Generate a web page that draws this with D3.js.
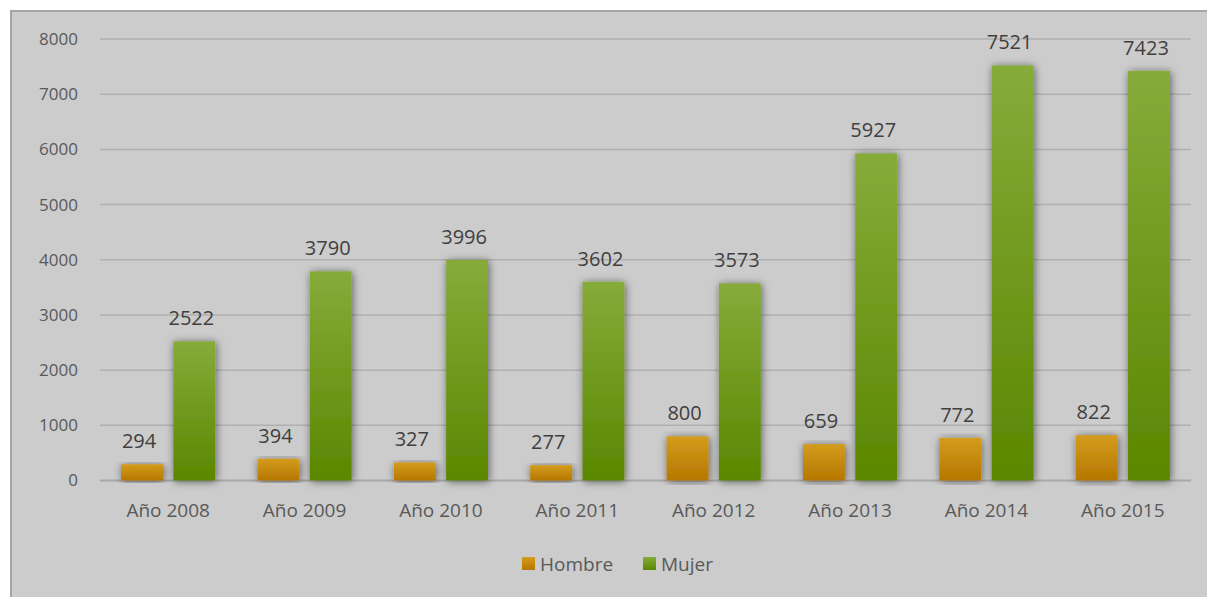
<!DOCTYPE html>
<html>
<head>
<meta charset="utf-8">
<script src="https://cdn.jsdelivr.net/npm/d3@7"></script>
<style>
  body { margin: 0; background: #fff; }
  svg { display: block; font-family: "Open Sans", "Noto Sans", sans-serif; }
</style>
</head>
<body>
<div id="chart"></div>
<script>
var years  = ["Año 2008", "Año 2009", "Año 2010", "Año 2011", "Año 2012", "Año 2013", "Año 2014", "Año 2015"];
var hombre = [294, 394, 327, 277, 800, 659, 772, 822];
var mujer  = [2522, 3790, 3996, 3602, 3573, 5927, 7521, 7423];
var series = ["Hombre", "Mujer"];
var yTicks = [0, 1000, 2000, 3000, 4000, 5000, 6000, 7000, 8000];

var W = 1207, H = 597;
var margin = {top: 39, left: 100, right: 16, bottom: 116};
var width  = 1191 - margin.left,
    height = 480.5 - margin.top;

var svg = d3.select("#chart").append("svg")
    .attr("width", W).attr("height", H);

var defs = svg.append("defs");

function grad(id, top, bottom) {
  var lg = defs.append("linearGradient").attr("id", id)
      .attr("x1", 0).attr("y1", 0).attr("x2", 0).attr("y2", 1);
  lg.append("stop").attr("offset", "0%").attr("stop-color", top);
  lg.append("stop").attr("offset", "100%").attr("stop-color", bottom);
}
grad("gH", "#d49c1c", "#b57700");
grad("gM", "#86ab3a", "#5a8700");

var f = defs.append("filter").attr("id", "shadow")
    .attr("x", "-40%").attr("y", "-10%").attr("width", "180%").attr("height", "120%");
f.append("feDropShadow").attr("dx", 1).attr("dy", 1)
    .attr("stdDeviation", 4).attr("flood-color", "#000").attr("flood-opacity", 0.55);

// background panel
svg.append("rect")
    .attr("x", 10).attr("y", 10).attr("width", W - 10).attr("height", H - 10)
    .attr("fill", "#cccccc");
svg.append("path")
    .attr("d", "M11," + H + "V11H" + W)
    .attr("fill", "none").attr("stroke", "#a5a5a5").attr("stroke-width", 2);

var g = svg.append("g").attr("transform", "translate(" + margin.left + "," + margin.top + ")");

var x0 = d3.scaleBand().domain(years).range([0, width]).paddingInner(0.31).paddingOuter(0.155);
var x1 = d3.scaleBand().domain(series).range([0, x0.bandwidth()]).paddingInner(0.2);
var y  = d3.scaleLinear().domain([0, 8000]).range([height, 0]);

// gridlines
g.selectAll(".grid").data(yTicks).enter().append("line")
    .attr("x1", 0).attr("x2", width)
    .attr("y1", function(d) { return y(d); })
    .attr("y2", function(d) { return y(d); })
    .attr("stroke", function(d) { return d === 0 ? "#a8a8a8" : "#b0b0b0"; })
    .attr("stroke-width", function(d) { return d === 0 ? 2 : 1.5; });

// y axis
var yAxis = g.append("g")
    .call(d3.axisLeft(y).tickValues(yTicks).tickFormat(d3.format("d")).tickSize(0).tickPadding(22));
yAxis.select(".domain").remove();
yAxis.selectAll("text").attr("font-size", 17).attr("fill", "#595959")
    .attr("font-family", "Open Sans, sans-serif");

// x axis
var xAxis = g.append("g").attr("transform", "translate(0," + height + ")")
    .call(d3.axisBottom(x0).tickSize(0).tickPadding(23));
xAxis.select(".domain").remove();
xAxis.selectAll("text").attr("font-size", 19).attr("fill", "#595959")
    .attr("font-family", "Open Sans, sans-serif");

var rows = years.map(function(yr, i) {
  return {year: yr, vals: [{k: "Hombre", v: hombre[i]}, {k: "Mujer", v: mujer[i]}]};
});

var grp = g.selectAll(".yr").data(rows).enter().append("g")
    .attr("transform", function(d) { return "translate(" + x0(d.year) + ",0)"; });

grp.selectAll("rect").data(function(d) { return d.vals; }).enter().append("rect")
    .attr("x", function(d) { return x1(d.k); })
    .attr("width", x1.bandwidth())
    .attr("y", function(d) { return y(d.v); })
    .attr("height", function(d) { return height - y(d.v); })
    .attr("fill", function(d) { return d.k === "Hombre" ? "url(#gH)" : "url(#gM)"; })
    .attr("filter", "url(#shadow)");

grp.selectAll(".lbl").data(function(d) { return d.vals; }).enter().append("text")
    .attr("x", function(d) { return x1(d.k) + x1.bandwidth() / 2 - 3; })
    .attr("y", function(d) { return y(d.v) - 16; })
    .attr("text-anchor", "middle")
    .attr("font-size", 20)
    .attr("fill", "#404040")
    .text(function(d) { return d.v; });

// legend
var legend = svg.append("g").attr("transform", "translate(522,564)");
var items = [{k: "Hombre", x: 0, c: "url(#gH)"}, {k: "Mujer", x: 121, c: "url(#gM)"}];
legend.selectAll("rect").data(items).enter().append("rect")
    .attr("x", function(d) { return d.x; }).attr("y", -7)
    .attr("width", 13).attr("height", 13)
    .attr("fill", function(d) { return d.c; });
legend.selectAll("text").data(items).enter().append("text")
    .attr("x", function(d) { return d.x + 18; }).attr("y", 7)
    .attr("font-size", 19).attr("fill", "#595959")
    .text(function(d) { return d.k; });
</script>
</body>
</html>
